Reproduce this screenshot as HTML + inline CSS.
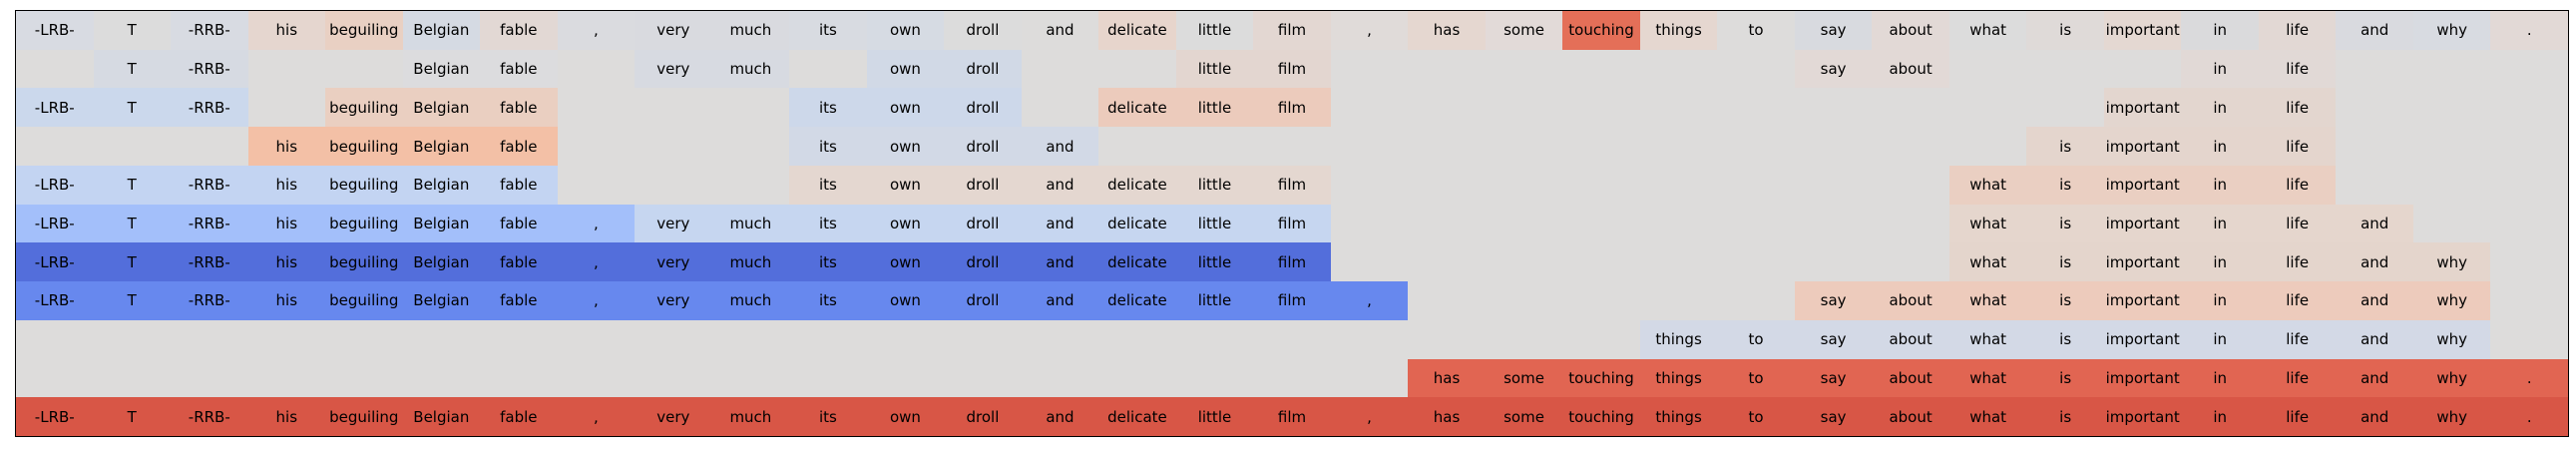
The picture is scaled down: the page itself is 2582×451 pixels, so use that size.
<!DOCTYPE html>
<html><head><meta charset="utf-8"><style>
html,body{margin:0;padding:0;background:#fff;width:2582px;height:451px;overflow:hidden}
#t{position:absolute;left:15px;top:10px;width:2558px;height:426px;border:1.5px solid #000;background:#dddcdb;display:grid;grid-template-columns:repeat(33,1fr);grid-template-rows:repeat(11,1fr)}
#t div{font-family:"DejaVu Sans","Liberation Sans",sans-serif;font-size:15px;color:#000;display:flex;align-items:center;justify-content:center;white-space:nowrap}
.g{}
</style></head><body><div id="t">
<div style="background:#d8dbe2">-LRB-</div><div style="background:#dcdcdc">T</div><div style="background:#d8dbe2">-RRB-</div><div style="background:#e5d6cf">his</div><div style="background:#e9d0c3">beguiling</div><div style="background:#d5dae3">Belgian</div><div style="background:#e2d8d4">fable</div><div style="background:#dadbdf">,</div><div style="background:#d9dadf">very</div><div style="background:#d9dadf">much</div><div style="background:#d8dbe1">its</div><div style="background:#d6dbe3">own</div><div style="background:#dcdcdc">droll</div><div style="background:#dddcdb">and</div><div style="background:#e7d5cc">delicate</div><div style="background:#dcdcdc">little</div><div style="background:#e3d7d2">film</div><div style="background:#e0dbd9">,</div><div style="background:#e5d7d0">has</div><div style="background:#e2dad8">some</div><div style="background:#e46f58">touching</div><div style="background:#e5d7d0">things</div><div style="background:#dddcdb">to</div><div style="background:#d8dadf">say</div><div style="background:#e2d9d6">about</div><div style="background:#dcdcdc">what</div><div style="background:#dfdad8">is</div><div style="background:#e4d8d2">important</div><div style="background:#dadadc">in</div><div style="background:#e2d8d4">life</div><div style="background:#d9dadf">and</div><div style="background:#d8dbe1">why</div><div style="background:#e2d9d6">.</div>
<div></div><div style="background:#d6dae2">T</div><div style="background:#d6dae2">-RRB-</div><div></div><div></div><div style="background:#dcdcde">Belgian</div><div style="background:#dcdcde">fable</div><div></div><div style="background:#d7dae1">very</div><div style="background:#d7dae1">much</div><div></div><div style="background:#d1d9e6">own</div><div style="background:#d1d9e6">droll</div><div></div><div></div><div style="background:#e3d6d0">little</div><div style="background:#e3d6d0">film</div><div></div><div></div><div></div><div></div><div></div><div></div><div style="background:#e2d9d6">say</div><div style="background:#e2d9d6">about</div><div></div><div></div><div></div><div style="background:#e1d9d6">in</div><div style="background:#e1d9d6">life</div><div></div><div></div><div></div>
<div style="background:#cbd8ec">-LRB-</div><div style="background:#cbd8ec">T</div><div style="background:#cbd8ec">-RRB-</div><div></div><div style="background:#eacfc1">beguiling</div><div style="background:#eacfc1">Belgian</div><div style="background:#eacfc1">fable</div><div></div><div></div><div></div><div style="background:#cdd8ea">its</div><div style="background:#cdd8ea">own</div><div style="background:#cdd8ea">droll</div><div></div><div style="background:#eccbbc">delicate</div><div style="background:#eccbbc">little</div><div style="background:#eccbbc">film</div><div></div><div></div><div></div><div></div><div></div><div></div><div></div><div></div><div></div><div></div><div style="background:#e3d6cf">important</div><div style="background:#e3d6cf">in</div><div style="background:#e3d6cf">life</div><div></div><div></div><div></div>
<div></div><div></div><div></div><div style="background:#f3c0a6">his</div><div style="background:#f3c0a6">beguiling</div><div style="background:#f3c0a6">Belgian</div><div style="background:#f3c0a6">fable</div><div></div><div></div><div></div><div style="background:#d2d9e6">its</div><div style="background:#d2d9e6">own</div><div style="background:#d2d9e6">droll</div><div style="background:#d2d9e6">and</div><div></div><div></div><div></div><div></div><div></div><div></div><div></div><div></div><div></div><div></div><div></div><div></div><div style="background:#e4d5cd">is</div><div style="background:#e4d5cd">important</div><div style="background:#e4d5cd">in</div><div style="background:#e4d5cd">life</div><div></div><div></div><div></div>
<div style="background:#c3d4f2">-LRB-</div><div style="background:#c3d4f2">T</div><div style="background:#c3d4f2">-RRB-</div><div style="background:#c3d4f2">his</div><div style="background:#c3d4f2">beguiling</div><div style="background:#c3d4f2">Belgian</div><div style="background:#c3d4f2">fable</div><div></div><div></div><div></div><div style="background:#e4d7d0">its</div><div style="background:#e4d7d0">own</div><div style="background:#e4d7d0">droll</div><div style="background:#e4d7d0">and</div><div style="background:#e4d7d0">delicate</div><div style="background:#e4d7d0">little</div><div style="background:#e4d7d0">film</div><div></div><div></div><div></div><div></div><div></div><div></div><div></div><div></div><div style="background:#eacfc2">what</div><div style="background:#eacfc2">is</div><div style="background:#eacfc2">important</div><div style="background:#eacfc2">in</div><div style="background:#eacfc2">life</div><div></div><div></div><div></div>
<div style="background:#a3bffa">-LRB-</div><div style="background:#a3bffa">T</div><div style="background:#a3bffa">-RRB-</div><div style="background:#a3bffa">his</div><div style="background:#a3bffa">beguiling</div><div style="background:#a3bffa">Belgian</div><div style="background:#a3bffa">fable</div><div style="background:#a3bffa">,</div><div style="background:#c6d6f0">very</div><div style="background:#c6d6f0">much</div><div style="background:#c6d6f0">its</div><div style="background:#c6d6f0">own</div><div style="background:#c6d6f0">droll</div><div style="background:#c6d6f0">and</div><div style="background:#c6d6f0">delicate</div><div style="background:#c6d6f0">little</div><div style="background:#c6d6f0">film</div><div></div><div></div><div></div><div></div><div></div><div></div><div></div><div></div><div style="background:#e5d6cd">what</div><div style="background:#e5d6cd">is</div><div style="background:#e5d6cd">important</div><div style="background:#e5d6cd">in</div><div style="background:#e5d6cd">life</div><div style="background:#e5d6cd">and</div><div></div><div></div>
<div style="background:#536edb">-LRB-</div><div style="background:#536edb">T</div><div style="background:#536edb">-RRB-</div><div style="background:#536edb">his</div><div style="background:#536edb">beguiling</div><div style="background:#536edb">Belgian</div><div style="background:#536edb">fable</div><div style="background:#536edb">,</div><div style="background:#536edb">very</div><div style="background:#536edb">much</div><div style="background:#536edb">its</div><div style="background:#536edb">own</div><div style="background:#536edb">droll</div><div style="background:#536edb">and</div><div style="background:#536edb">delicate</div><div style="background:#536edb">little</div><div style="background:#536edb">film</div><div></div><div></div><div></div><div></div><div></div><div></div><div></div><div></div><div style="background:#e4d5cc">what</div><div style="background:#e4d5cc">is</div><div style="background:#e4d5cc">important</div><div style="background:#e4d5cc">in</div><div style="background:#e4d5cc">life</div><div style="background:#e4d5cc">and</div><div style="background:#e4d5cc">why</div><div></div>
<div style="background:#6788ee">-LRB-</div><div style="background:#6788ee">T</div><div style="background:#6788ee">-RRB-</div><div style="background:#6788ee">his</div><div style="background:#6788ee">beguiling</div><div style="background:#6788ee">Belgian</div><div style="background:#6788ee">fable</div><div style="background:#6788ee">,</div><div style="background:#6788ee">very</div><div style="background:#6788ee">much</div><div style="background:#6788ee">its</div><div style="background:#6788ee">own</div><div style="background:#6788ee">droll</div><div style="background:#6788ee">and</div><div style="background:#6788ee">delicate</div><div style="background:#6788ee">little</div><div style="background:#6788ee">film</div><div style="background:#6788ee">,</div><div></div><div></div><div></div><div></div><div></div><div style="background:#edcbbc">say</div><div style="background:#edcbbc">about</div><div style="background:#edcbbc">what</div><div style="background:#edcbbc">is</div><div style="background:#edcbbc">important</div><div style="background:#edcbbc">in</div><div style="background:#edcbbc">life</div><div style="background:#edcbbc">and</div><div style="background:#edcbbc">why</div><div></div>
<div></div><div></div><div></div><div></div><div></div><div></div><div></div><div></div><div></div><div></div><div></div><div></div><div></div><div></div><div></div><div></div><div></div><div></div><div></div><div></div><div></div><div style="background:#d3d9e6">things</div><div style="background:#d3d9e6">to</div><div style="background:#d3d9e6">say</div><div style="background:#d3d9e6">about</div><div style="background:#d3d9e6">what</div><div style="background:#d3d9e6">is</div><div style="background:#d3d9e6">important</div><div style="background:#d3d9e6">in</div><div style="background:#d3d9e6">life</div><div style="background:#d3d9e6">and</div><div style="background:#d3d9e6">why</div><div></div>
<div></div><div></div><div></div><div></div><div></div><div></div><div></div><div></div><div></div><div></div><div></div><div></div><div></div><div></div><div></div><div></div><div></div><div></div><div style="background:#e16552">has</div><div style="background:#e16552">some</div><div style="background:#e16552">touching</div><div style="background:#e16552">things</div><div style="background:#e16552">to</div><div style="background:#e16552">say</div><div style="background:#e16552">about</div><div style="background:#e16552">what</div><div style="background:#e16552">is</div><div style="background:#e16552">important</div><div style="background:#e16552">in</div><div style="background:#e16552">life</div><div style="background:#e16552">and</div><div style="background:#e16552">why</div><div style="background:#e16552">.</div>
<div style="background:#d85646">-LRB-</div><div style="background:#d85646">T</div><div style="background:#d85646">-RRB-</div><div style="background:#d85646">his</div><div style="background:#d85646">beguiling</div><div style="background:#d85646">Belgian</div><div style="background:#d85646">fable</div><div style="background:#d85646">,</div><div style="background:#d85646">very</div><div style="background:#d85646">much</div><div style="background:#d85646">its</div><div style="background:#d85646">own</div><div style="background:#d85646">droll</div><div style="background:#d85646">and</div><div style="background:#d85646">delicate</div><div style="background:#d85646">little</div><div style="background:#d85646">film</div><div style="background:#d85646">,</div><div style="background:#d85646">has</div><div style="background:#d85646">some</div><div style="background:#d85646">touching</div><div style="background:#d85646">things</div><div style="background:#d85646">to</div><div style="background:#d85646">say</div><div style="background:#d85646">about</div><div style="background:#d85646">what</div><div style="background:#d85646">is</div><div style="background:#d85646">important</div><div style="background:#d85646">in</div><div style="background:#d85646">life</div><div style="background:#d85646">and</div><div style="background:#d85646">why</div><div style="background:#d85646">.</div>
</div></body></html>
